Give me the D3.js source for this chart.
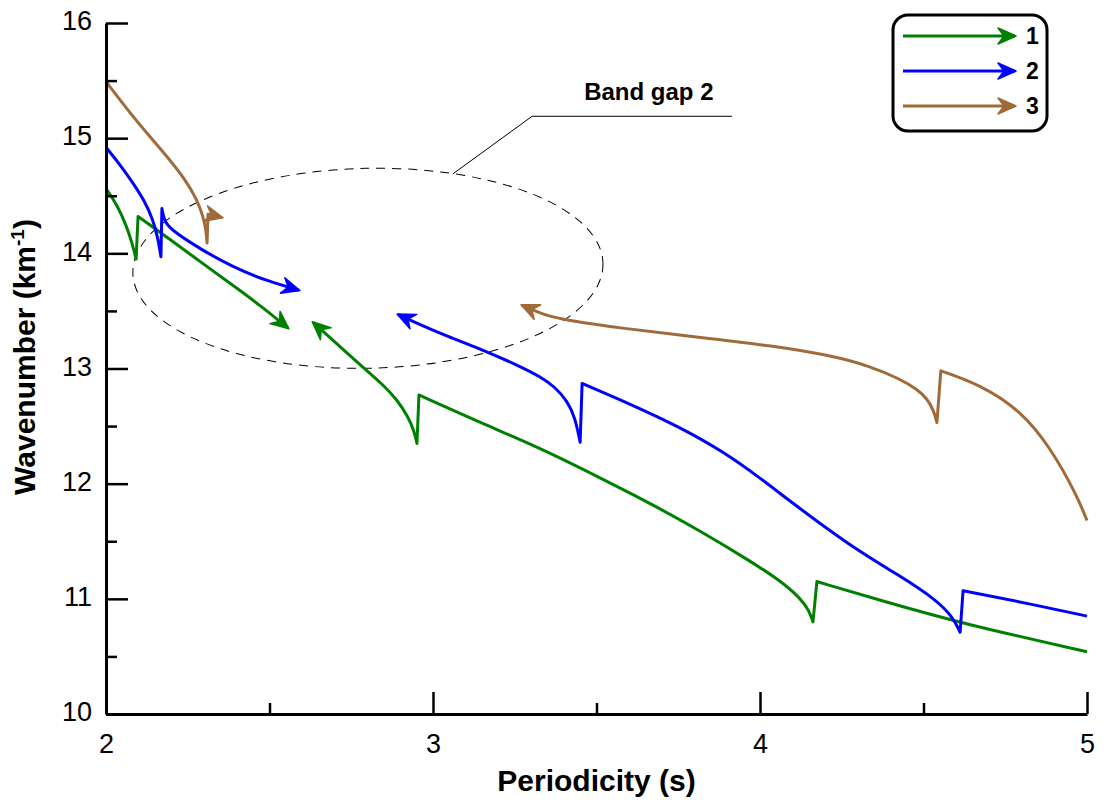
<!DOCTYPE html>
<html><head><meta charset="utf-8">
<script src="https://cdn.jsdelivr.net/npm/d3@7"></script>
<style>body{margin:0;background:#fff}text{font-family:"Liberation Sans",Arial,sans-serif}</style>
</head><body>
<svg id="chart" width="1104" height="803"></svg>
<script>
// ---- data ----
const seriesNames = ["1", "2", "3"];
const seriesColors = ["#008000", "#0000ff", "#a06a3a"];
const xTicks = [2, 2.5, 3, 3.5, 4, 4.5, 5];
const xTickLabels = ["2", "", "3", "", "4", "", "5"];
const yMajorTicks = [10, 11, 12, 13, 14, 15, 16];
const yMinorTicks = [10.5, 11.5, 12.5, 13.5, 14.5, 15.5];

// series 1 (green): branch ending with arrow, branch starting with arrow
const green1 = [[2.003,14.55],[2.034,14.42],[2.061,14.25],[2.080,14.09],[2.092,13.95],
  [2.098,14.32],[2.196,14.12],[2.287,13.93],[2.379,13.74],[2.471,13.55],[2.557,13.35]];
const green2 = [[2.633,13.40],[2.716,13.19],[2.786,13.01],[2.847,12.86],[2.890,12.73],[2.924,12.58],
  [2.942,12.46],[2.951,12.35],[2.957,12.77],[3.144,12.53],[3.327,12.31],[3.511,12.05],[3.664,11.83],
  [3.817,11.59],[3.969,11.33],[4.061,11.16],[4.122,11.01],[4.150,10.90],[4.162,10.80],[4.174,11.15],
  [4.376,10.98],[4.612,10.79],[5.000,10.54]];
// series 2 (blue)
const blue1 = [[2.003,14.91],[2.043,14.77],[2.083,14.61],[2.119,14.45],[2.144,14.29],[2.159,14.13],
  [2.168,13.97],[2.171,14.39],[2.178,14.27],[2.211,14.18],[2.287,14.04],[2.388,13.88],[2.492,13.76],[2.590,13.68]];
const blue2 = [[2.893,13.47],[2.960,13.38],[3.043,13.28],[3.144,13.17],[3.266,13.02],
  [3.327,12.93],[3.373,12.84],[3.410,12.72],[3.434,12.58],[3.450,12.36],[3.456,12.87],[3.612,12.68],
  [3.755,12.49],[3.887,12.28],[4.000,12.05],[4.086,11.86],[4.275,11.46],[4.428,11.20],[4.540,10.99],
  [4.590,10.84],[4.612,10.71],[4.621,11.07],[4.786,10.98],[5.000,10.85]];
// series 3 (brown)
const brown1 = [[2.003,15.48],[2.073,15.22],[2.135,15.01],[2.196,14.81],[2.242,14.64],[2.278,14.47],
  [2.297,14.32],[2.306,14.20],[2.309,14.09],[2.312,14.34],[2.355,14.31]];
const brown2 = [[3.272,13.55],[3.343,13.46],[3.410,13.42],[3.572,13.35],[3.817,13.27],[4.031,13.20],
  [4.223,13.11],[4.336,13.02],[4.428,12.91],[4.480,12.82],[4.511,12.74],[4.532,12.63],[4.541,12.53],
  [4.553,12.98],[4.673,12.86],[4.795,12.64],[4.887,12.32],[4.969,11.90],[5.000,11.68]];

// annotation: band gap ellipse (data units) and leader line
const gapEllipse = {cx: 2.801, cy: 13.87, rx: 0.719, ry: 0.868};
const leader = [[3.061,14.69],[3.303,15.19],[3.914,15.19]];
const gapLabel = "Band gap 2";

// ---- drawing ----
const svg = d3.select("#chart");
const x = d3.scaleLinear().domain([2, 5]).range([106, 1087]);
const y = d3.scaleLinear().domain([10, 16]).range([714, 23]);

const defs = svg.append("defs");
seriesColors.forEach((c, i) => {
  ["end", "start"].forEach(kind => {
    defs.append("marker")
      .attr("id", `arr${i}${kind}`)
      .attr("viewBox", "0 -9 20 18")
      .attr("markerWidth", 20).attr("markerHeight", 18)
      .attr("markerUnits", "userSpaceOnUse")
      .attr("refX", 18).attr("refY", 0)
      .attr("orient", kind === "end" ? "auto" : "auto-start-reverse")
      .append("path").attr("d", "M1,-8L19,0L1,8L7,0Z").attr("fill", c)
      .attr("stroke", c).attr("stroke-width", 1.5).attr("stroke-linejoin", "round");
  });
});

// ellipse + leader
const ex = x(gapEllipse.cx), ey = y(gapEllipse.cy);
svg.append("ellipse")
  .attr("cx", ex).attr("cy", ey)
  .attr("rx", x(gapEllipse.cx + gapEllipse.rx) - ex)
  .attr("ry", y(gapEllipse.cy - gapEllipse.ry) - ey)
  .attr("fill", "none").attr("stroke", "#000").attr("stroke-width", 1)
  .attr("stroke-dasharray", "9,7")
  .attr("transform", `rotate(-1.2,${ex},${ey})`);
svg.append("path")
  .attr("d", d3.line().x(d => x(d[0])).y(d => y(d[1]))(leader))
  .attr("fill", "none").attr("stroke", "#000").attr("stroke-width", 1);
svg.append("text").attr("x", x(3.66)).attr("y", 100)
  .attr("text-anchor", "middle").attr("font-size", 24).attr("font-weight", "bold")
  .text(gapLabel);

// curves: smooth each decreasing piece, join pieces with straight jumps
const smooth = d3.line().x(d => x(d[0])).y(d => y(d[1])).curve(d3.curveBasis);
function branchPath(data) {
  const pieces = [];
  let cur = [data[0]];
  for (let i = 1; i < data.length; i++) {
    if (data[i][1] > data[i - 1][1]) { pieces.push(cur); cur = [data[i]]; }
    else cur.push(data[i]);
  }
  pieces.push(cur);
  return pieces.map((p, k) => {
    const s = p.length > 1 ? smooth(p) : `M${x(p[0][0])},${y(p[0][1])}`;
    return k === 0 ? s : "L" + s.slice(1);
  }).join("");
}
const curves = [
  {data: green1, s: 0, kind: "end"}, {data: green2, s: 0, kind: "start"},
  {data: blue1, s: 1, kind: "end"}, {data: blue2, s: 1, kind: "start"},
  {data: brown1, s: 2, kind: "end"}, {data: brown2, s: 2, kind: "start"}
];
curves.forEach(c => {
  svg.append("path").attr("d", branchPath(c.data))
    .attr("fill", "none").attr("stroke", seriesColors[c.s]).attr("stroke-width", 3)
    .attr("stroke-linejoin", "round")
    .attr(c.kind === "end" ? "marker-end" : "marker-start", `url(#arr${c.s}${c.kind})`);
});

// axes
const gx = svg.append("g").attr("transform", `translate(0,${y(10)})`)
  .call(d3.axisBottom(x).tickValues(xTicks).tickFormat((d, i) => xTickLabels[i])
    .tickSizeInner(-22).tickSizeOuter(0).tickPadding(20));
gx.selectAll(".tick line").attr("y2", (d, i) => xTickLabels[i] === "" ? -11 : -22);
const gyMinor = svg.append("g").attr("transform", `translate(${x(2)},0)`)
  .call(d3.axisLeft(y).tickValues(yMinorTicks).tickFormat("").tickSizeInner(-11).tickSizeOuter(0));
gyMinor.select(".domain").remove();
const gy = svg.append("g").attr("transform", `translate(${x(2)},0)`)
  .call(d3.axisLeft(y).tickValues(yMajorTicks).tickFormat(d3.format("d"))
    .tickSizeInner(-22).tickSizeOuter(0).tickPadding(14));
[gx, gy, gyMinor].forEach(g => {
  g.selectAll(".domain").attr("stroke", "#000").attr("stroke-width", 3);
  g.selectAll(".tick line").attr("stroke", "#000").attr("stroke-width", 2.5);
  g.selectAll("text").attr("font-size", 27).attr("fill", "#000")
    .style("font-family", '"Liberation Sans",Arial,sans-serif');
});
gy.selectAll(".tick text").attr("dy", "0.25em");

// axis titles
svg.append("text").attr("x", (x(2) + x(5)) / 2).attr("y", 791)
  .attr("text-anchor", "middle").attr("font-size", 30).attr("font-weight", "bold")
  .text("Periodicity (s)");
const yt = svg.append("text").attr("transform", `translate(35,357) rotate(-90)`)
  .attr("text-anchor", "middle").attr("font-size", 30).attr("font-weight", "bold");
yt.append("tspan").text("Wavenumber (km");
yt.append("tspan").attr("font-size", 19).attr("dy", -11).text("-1");
yt.append("tspan").attr("dy", 11).text(")");

// legend
const lg = svg.append("g");
lg.append("rect").attr("x", 893).attr("y", 15).attr("width", 154).attr("height", 116)
  .attr("rx", 15).attr("ry", 15).attr("fill", "#fff").attr("stroke", "#000").attr("stroke-width", 3);
const ly = d3.scalePoint().domain(seriesNames).range([36, 106]);
seriesNames.forEach((n, i) => {
  lg.append("line").attr("x1", 903).attr("x2", 1015).attr("y1", ly(n)).attr("y2", ly(n))
    .attr("stroke", seriesColors[i]).attr("stroke-width", 3)
    .attr("marker-end", `url(#arr${i}end)`);
  lg.append("text").attr("x", 1026).attr("y", ly(n)).attr("dy", "0.36em")
    .attr("font-size", 23).attr("font-weight", "bold").text(n);
});
</script>
</body></html>
